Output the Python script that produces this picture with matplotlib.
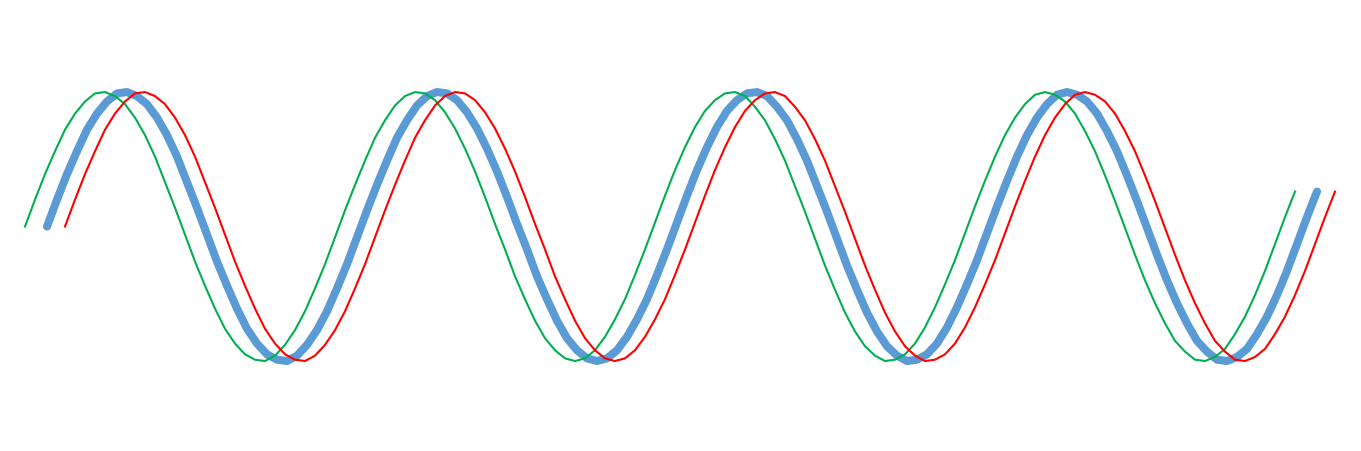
import numpy as np
import matplotlib
matplotlib.use("Agg")
import matplotlib.pyplot as plt

values = [
    0.00, 0.20, 0.39, 0.56, 0.72, 0.84, 0.93, 0.99, 1.00, 0.97,
    0.91, 0.81, 0.68, 0.52, 0.33, 0.14, -0.06, -0.26, -0.44, -0.61,
    -0.76, -0.87, -0.95, -0.99, -1.00, -0.96, -0.88, -0.77, -0.63, -0.46,
    -0.28, -0.08, 0.12, 0.31, 0.49, 0.66, 0.79, 0.90, 0.97, 1.00,
    0.99, 0.94, 0.85, 0.73, 0.58, 0.41, 0.22, 0.02, -0.17, -0.37,
    -0.54, -0.70, -0.83, -0.92, -0.98, -1.00, -0.98, -0.92, -0.82, -0.69,
    -0.54, -0.36, -0.17, 0.03, 0.23, 0.42, 0.59, 0.74, 0.86, 0.94,
    0.99, 1.00, 0.97, 0.89, 0.79, 0.65, 0.49, 0.30, 0.11, -0.09,
    -0.29, -0.47, -0.64, -0.78, -0.89, -0.96, -1.00, -0.99, -0.95, -0.87,
    -0.75, -0.60, -0.43, -0.25, -0.05, 0.15, 0.34, 0.52, 0.68, 0.81,
    0.91, 0.98, 1.00, 0.98, 0.93, 0.84, 0.71, 0.56, 0.38, 0.19,
    -0.01, -0.21, -0.40, -0.57, -0.72, -0.85, -0.93, -0.99, -1.00, -0.97,
    -0.91, -0.80, -0.67, -0.51, -0.33, -0.13, 0.07, 0.26,
]
step = 0.2
shift_green = -0.44
shift_red = 0.36

x = np.arange(len(values)) * step

fig = plt.figure(figsize=(13.61, 4.52), dpi=100)
ax = fig.add_axes([0, 0, 1, 1])

ax.plot(x, values, color="#5B9BD5", lw=5.8, solid_capstyle="round", zorder=1)
ax.plot(x + shift_green, values, color="#00B050", lw=1.5, zorder=2)
ax.plot(x + shift_red, values, color="#FF0000", lw=1.5, zorder=3)

ax.set_xlim(-0.94, 26.28)
ax.set_ylim(-1.669, 1.692)
ax.axis("off")

fig.savefig("out.png", dpi=100)
